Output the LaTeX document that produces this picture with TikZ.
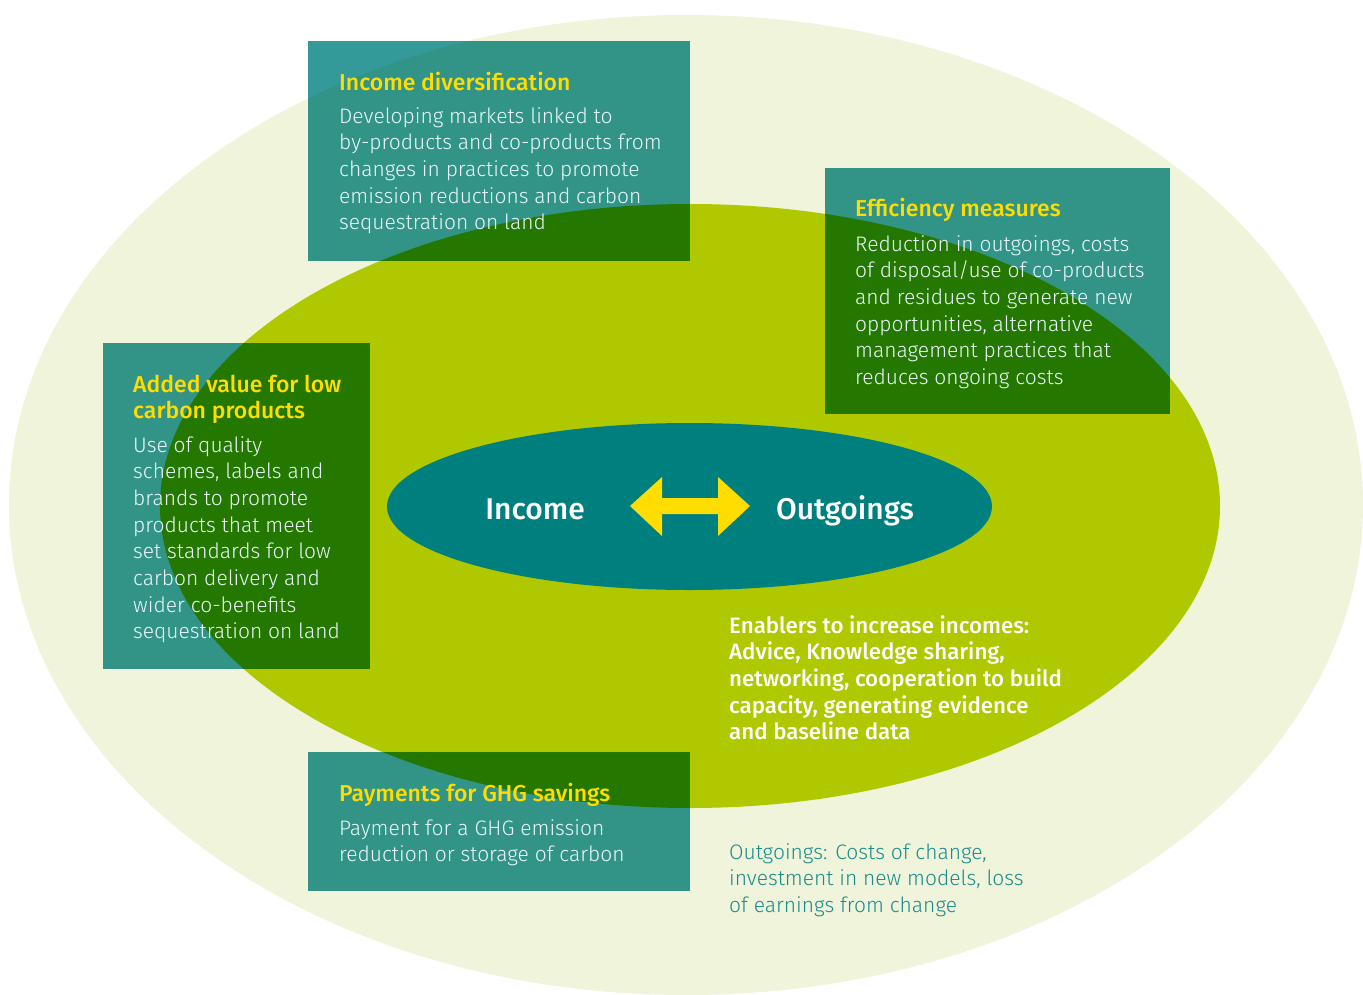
\documentclass[tikz,border=0pt]{standalone}
\usepackage{fontspec}
\setmainfont{Fira Sans}[UprightFont=* Light, BoldFont=* Medium]
\newfontfamily\boldsans{Fira Sans}[UprightFont=* Medium]
\definecolor{cream}{RGB}{240,244,218}
\definecolor{leaf}{RGB}{176,200,0}
\definecolor{core}{RGB}{0,127,127}
\definecolor{boxwhite}{RGB}{51,153,153}
\definecolor{boxcream}{RGB}{50,148,134}
\definecolor{boxleaf}{RGB}{36,120,0}
\definecolor{sun}{RGB}{255,221,0}
\definecolor{tealtext}{RGB}{26,140,140}
% stacked lines whose anchor is the baseline of the first line
\newcommand{\lines}[1]{\begin{tabular}[t]{@{}l@{}}#1\end{tabular}}
\tikzset{
  heading/.style={font=\boldsans\fontsize{23}{26.7}\selectfont, text=sun,
    inner sep=0pt, anchor=base west},
  body/.style={font=\fontsize{21}{26.7}\selectfont, text=white!92!cyan,
    inner sep=0pt, anchor=base west},
  enabler/.style={font=\bfseries\fontsize{22.3}{26.7}\selectfont, text=white,
    inner sep=0pt, anchor=base west},
  costs/.style={font=\fontsize{21}{26.7}\selectfont, text=tealtext,
    inner sep=0pt, anchor=base west},
  centre/.style={font=\boldsans\fontsize{30}{34}\selectfont, text=white, inner sep=0pt, anchor=base},
}
\begin{document}
\begin{tikzpicture}[x=1pt, y=-1pt]
\useasboundingbox (0,0) rectangle (1363,994);
\fill[white] (0,0) rectangle (1363,994);

% concentric ellipses
\fill[cream] (686,505) ellipse [x radius=677, y radius=490];
\fill[leaf] (690,506) ellipse [x radius=530, y radius=302];
\fill[core] (689.5,506.5) ellipse [x radius=302.5, y radius=83.5];

% panel frames
\coordinate (topA) at (308,41);   \coordinate (topB) at (690,261);
\coordinate (rgtA) at (825,168);  \coordinate (rgtB) at (1170,414);
\coordinate (lftA) at (103,343);  \coordinate (lftB) at (370,669);
\coordinate (botA) at (308,752);  \coordinate (botB) at (690,891);

\foreach \a/\b in {topA/topB, rgtA/rgtB, lftA/lftB, botA/botB}{
  \fill[boxwhite] (\a) rectangle (\b);
  \begin{scope}
    \clip (686,505) ellipse [x radius=677, y radius=490];
    \fill[boxcream] (\a) rectangle (\b);
  \end{scope}
  \begin{scope}
    \clip (690,506) ellipse [x radius=530, y radius=302];
    \fill[boxleaf] (\a) rectangle (\b);
  \end{scope}
}

% panel texts
\node[heading] (topH) at (339,90) {Income diversification};
\node[body] (topT) at (339,123) {\lines{Developing markets linked to\\by-products and co-products from\\changes in practices to promote\\emission reductions and carbon\\sequestration on land}};

\node[heading] (rgtH) at (855,216) {Efficiency measures};
\node[body] (rgtT) at (855,251) {\lines{Reduction in outgoings, costs\\of disposal/use of co-products\\and residues to generate new\\opportunities, alternative\\management practices that\\reduces ongoing costs}};

\node[heading] (lftH) at (133,392) {\lines{Added value for low\\carbon products}};
\node[body] (lftT) at (133,452) {\lines{Use of quality\\schemes, labels and\\brands to promote\\products that meet\\set standards for low\\carbon delivery and\\wider co-benefits\\sequestration on land}};

\node[heading] (botH) at (339,801) {Payments for GHG savings};
\node[body] (botT) at (339,835) {\lines{Payment for a GHG emission\\reduction or storage of carbon}};

\node[enabler] (enab) at (729,633) {\lines{Enablers to increase incomes:\\Advice, Knowledge sharing,\\networking, cooperation to build\\capacity, generating evidence\\and baseline data}};

\node[costs] (cost) at (729,859) {\lines{Outgoings: Costs of change,\\investment in new models, loss\\of earnings from change}};

% centre
\node[centre] (inc) at (535,519) {Income};
\node[centre] (out) at (845,519) {Outgoings};
\fill[sun] (630,506) -- (662,477) -- (662,498) -- (718,498) -- (718,477) -- (750,506)
  -- (718,536) -- (718,514) -- (662,514) -- (662,536) -- cycle;
\end{tikzpicture}
\end{document}
